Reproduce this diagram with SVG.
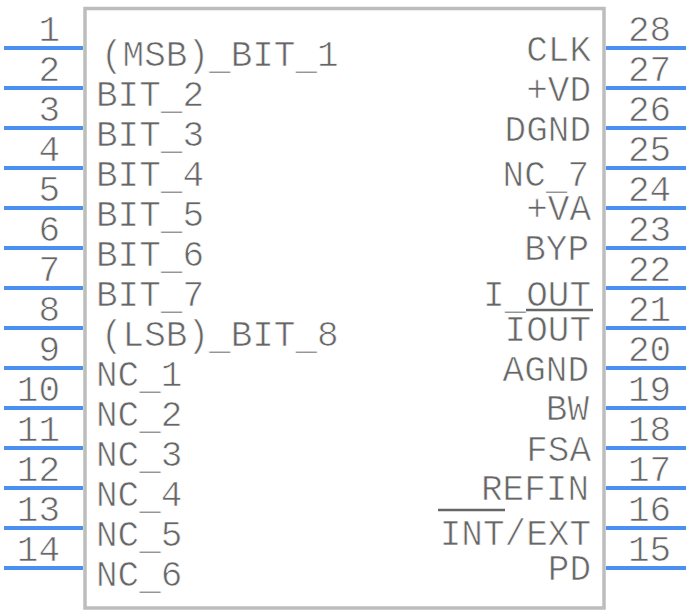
<svg xmlns="http://www.w3.org/2000/svg" width="688" height="612" viewBox="0 0 688 612">
<style>
text{font-family:"Liberation Mono",monospace;font-size:36px;fill:#666;stroke:#fff;stroke-width:.7px;paint-order:fill stroke}
.r,.n{text-anchor:end}
.pin{stroke:#4a90f0;stroke-width:4;fill:none}
.ov{stroke:#666;stroke-width:2.5;fill:none}
</style>
<rect width="688" height="612" fill="#fff"/>
<g id="body"><rect x="85" y="8.500" width="519" height="599.500" fill="#fff" stroke="#bdbdbd" stroke-width="3.500"/></g>
<g id="connectors">
<path class="pin" d="M4 48H83M4 88H83M4 128H83M4 168H83M4 208H83M4 248H83M4 288H83M4 328H83M4 368H83M4 408H83M4 448H83M4 488H83M4 528H83M4 568H83"/>
<path class="pin" d="M606 48H686M606 88H686M606 128H686M606 168H686M606 208H686M606 248H686M606 288H686M606 328H686M606 368H686M606 408H686M606 448H686M606 488H686M606 528H686M606 568H686"/>
</g>
<g id="pin-numbers-left">
<text class="n" x="60" y="41">1</text><text class="n" x="60" y="81">2</text><text class="n" x="60" y="121">3</text><text class="n" x="60" y="161">4</text><text class="n" x="60" y="201">5</text><text class="n" x="60" y="241">6</text><text class="n" x="60" y="281">7</text><text class="n" x="60" y="321">8</text><text class="n" x="60" y="361">9</text><text class="n" x="60" y="401">10</text><text class="n" x="60" y="441">11</text><text class="n" x="60" y="481">12</text><text class="n" x="60" y="521">13</text><text class="n" x="60" y="561">14</text>
</g>
<g id="pin-numbers-right">
<text x="628" y="41">28</text><text x="628" y="81">27</text><text x="628" y="121">26</text><text x="628" y="161">25</text><text x="628" y="201">24</text><text x="628" y="241">23</text><text x="628" y="281">22</text><text x="628" y="321">21</text><text x="628" y="361">20</text><text x="628" y="401">19</text><text x="628" y="441">18</text><text x="628" y="481">17</text><text x="628" y="521">16</text><text x="628" y="561">15</text>
</g>
<g id="labels-left">
<text x="101" y="66">(MSB)<tspan dy="3">_</tspan><tspan dy="-3">BIT</tspan><tspan dy="3">_</tspan><tspan dy="-3">1</tspan></text>
<text x="96" y="106">BIT<tspan dy="3">_</tspan><tspan dy="-3">2</tspan></text>
<text x="96" y="146">BIT<tspan dy="3">_</tspan><tspan dy="-3">3</tspan></text>
<text x="96" y="186">BIT<tspan dy="3">_</tspan><tspan dy="-3">4</tspan></text>
<text x="96" y="226">BIT<tspan dy="3">_</tspan><tspan dy="-3">5</tspan></text>
<text x="96" y="266">BIT<tspan dy="3">_</tspan><tspan dy="-3">6</tspan></text>
<text x="96" y="306">BIT<tspan dy="3">_</tspan><tspan dy="-3">7</tspan></text>
<text x="101" y="346">(LSB)<tspan dy="3">_</tspan><tspan dy="-3">BIT</tspan><tspan dy="3">_</tspan><tspan dy="-3">8</tspan></text>
<text x="96" y="386">NC<tspan dy="3">_</tspan><tspan dy="-3">1</tspan></text>
<text x="96" y="426">NC<tspan dy="3">_</tspan><tspan dy="-3">2</tspan></text>
<text x="96" y="466">NC<tspan dy="3">_</tspan><tspan dy="-3">3</tspan></text>
<text x="96" y="506">NC<tspan dy="3">_</tspan><tspan dy="-3">4</tspan></text>
<text x="96" y="546">NC<tspan dy="3">_</tspan><tspan dy="-3">5</tspan></text>
<text x="96" y="586">NC<tspan dy="3">_</tspan><tspan dy="-3">6</tspan></text>
</g>
<g id="labels-right">
<text class="r" x="591" y="61">CLK</text><text class="r" x="591" y="101">+VD</text><text class="r" x="591" y="141">DGND</text><text class="r" x="589" y="186">NC<tspan dy="3">_</tspan><tspan dy="-3">7</tspan></text><text class="r" x="591" y="220">+VA</text><text class="r" x="589" y="260">BYP</text><text class="r" x="591" y="306">I<tspan dy="3">_</tspan><tspan dy="-3">OUT</tspan></text><text class="r" x="591" y="341">IOUT</text><text class="r" x="589" y="381">AGND</text><text class="r" x="589" y="420">BW</text><text class="r" x="591" y="461">FSA</text><text class="r" x="589" y="500">REFIN</text><text class="r" x="591" y="545">INT/EXT</text><text class="r" x="591" y="580">PD</text>
<path class="ov" d="M526 310H593M438 510H505"/>
</g>
</svg>
